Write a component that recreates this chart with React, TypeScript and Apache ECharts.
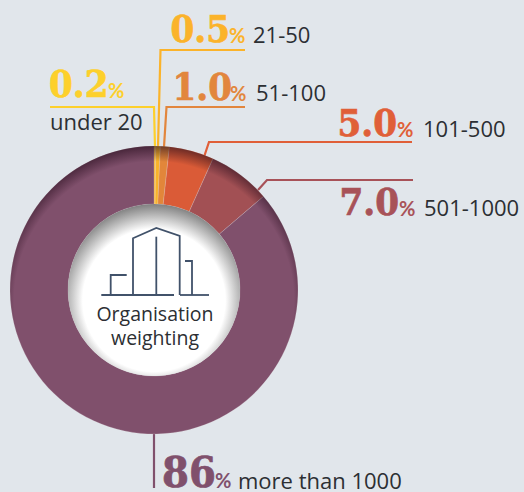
import React, { useEffect, useRef } from "react";
import * as echarts from "echarts";

const categories = ["under 20", "21-50", "51-100", "101-500", "501-1000", "more than 1000"];
const values = [0.2, 0.5, 1.0, 5.0, 7.0, 86];
const valueLabels = ["0.2", "0.5", "1.0", "5.0", "7.0", "86"];
const sliceColors = ["#f9b32a", "#f9b32a", "#e2863a", "#da5b37", "#a25054", "#80506c"];
const textColors = ["#fdd02b", "#fbb32a", "#e2863d", "#e05f38", "#a85258", "#80506c"];

const SLAB = '"DejaVu Serif Condensed", "DejaVu Serif", serif';
const BOLD = 'Lato, "Noto Sans", sans-serif';
const SANS = '"Open Sans", "Noto Sans", sans-serif';
const INK = "#2c2f33";
const ICON = "#41526a";
const CX = 154;
const CY = 290;

// x of number, baseline y, x of %, x of name, y of name, number size
const labelPos: number[][] = [
  [49, 98, 108, 50, 130, 38],
  [170.5, 43, 229, 253, 43, 38],
  [172.5, 101, 230, 256, 101, 38],
  [337.5, 137, 397, 423, 137, 38],
  [339.5, 216, 399, 424, 216, 38],
  [162, 488, 215, 238, 488, 43],
];
const leaders: number[][][] = [
  [[50, 107], [154, 107], [155, 147]],
  [[245, 50], [160.5, 50], [158, 147]],
  [[245, 107], [166.5, 107], [164, 147]],
  [[412, 142], [209, 142], [204, 157]],
  [[413, 180], [267, 180], [258, 190]],
  [[154, 434], [154, 488]],
];

const text = (x: number, y: number, t: string, font: string, size: number, fill: string, k: number, align = "left", heavy = 0) => ({
  type: "text",
  z: 20,
  silent: true,
  style: {
    x,
    y: y - k * size,
    text: t,
    font: `${font.replace("SIZE", String(size))}`,
    fill,
    textAlign: align,
    stroke: heavy ? fill : undefined,
    lineWidth: heavy,
  },
});
const icon = (points: number[][]) => ({
  type: "polyline",
  z: 20,
  silent: true,
  shape: { points },
  style: { stroke: ICON, lineWidth: 1.8, fill: "none" },
});

export default function App() {
  const ref = useRef<HTMLDivElement>(null);
  useEffect(() => {
    const chart = echarts.init(ref.current!, null, { renderer: "svg" });
    const labels: any[] = [];
    categories.forEach((name, i) => {
      const [nx, ny, px, tx, ty, size] = labelPos[i];
      labels.push(text(nx, ny, valueLabels[i], `bold SIZEpx ${SLAB}`, size, textColors[i], 0.87, "left", 0.7));
      labels.push(text(px, ny, "%", `bold SIZEpx ${BOLD}`, 20, textColors[i], 0.92));
      labels.push(text(tx, ty, name, `400 SIZEpx ${SANS}`, 22, INK, i === 5 ? 0.86 : 0.91));
    });
    chart.setOption({
      animation: false,
      backgroundColor: "#e1e6eb",
      series: [
        {
          type: "pie",
          silent: true,
          z: 2,
          center: [CX, CY],
          radius: [86, 144],
          startAngle: 90,
          clockwise: true,
          label: { show: false },
          labelLine: { show: false },
          itemStyle: { borderColor: "rgba(230,225,225,0.35)", borderWidth: 0.6 },
          data: values.map((value, i) => ({
            value,
            name: categories[i],
            itemStyle: { color: sliceColors[i] },
          })),
        },
      ],
      graphic: [
        ...leaders.map((points, i) => ({
          type: "polyline",
          z: 1,
          silent: true,
          shape: { points },
          style: { stroke: textColors[i], lineWidth: 2.2, fill: "none" },
        })),
        {
          type: "circle",
          z: 10,
          silent: true,
          shape: { cx: CX, cy: CY, r: 144 },
          style: {
            fill: new echarts.graphic.RadialGradient(0.5, 0.54, 0.54, [
              { offset: 0, color: "rgba(35,10,25,0)" },
              { offset: 0.9, color: "rgba(35,10,25,0)" },
              { offset: 1, color: "rgba(35,10,25,0.6)" },
            ]),
          },
        },
        {
          type: "circle",
          z: 11,
          silent: true,
          shape: { cx: CX, cy: CY, r: 86 },
          style: {
            fill: new echarts.graphic.RadialGradient(0.5, 0.56, 0.56, [
              { offset: 0, color: "#ffffff" },
              { offset: 0.74, color: "#ffffff" },
              { offset: 1, color: "#808080" },
            ]),
          },
        },
        icon([[101.3, 295], [174, 295]]),
        icon([[180, 295], [209, 295]]),
        icon([[133, 295], [133, 238.3], [156.3, 228], [179.7, 236], [179.7, 295]]),
        icon([[156.3, 236.7], [156.3, 295]]),
        icon([[110.7, 295], [110.7, 275], [126.7, 275]]),
        icon([[185, 261], [192, 261], [192, 295]]),
        text(CX + 1, 320, "Organisation", `400 SIZEpx ${SANS}`, 19.5, INK, 0.87, "center"),
        text(CX + 1, 343, "weighting", `400 SIZEpx ${SANS}`, 19.5, INK, 0.82, "center"),
        ...labels,
      ],
    });
    return () => chart.dispose();
  }, []);
  return <div ref={ref} style={{ position: "fixed", left: 0, top: 0, width: 524, height: 492 }} />;
}
